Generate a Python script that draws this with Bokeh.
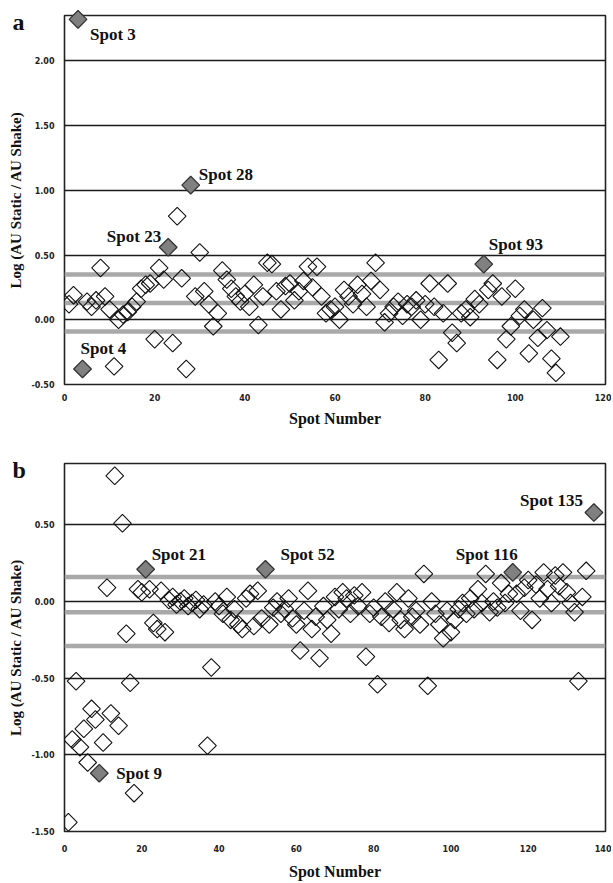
import numpy as np
from bokeh.plotting import figure
from bokeh.layouts import column
from bokeh.models import Span, Label, FixedTicker, Range1d, PrintfTickFormatter
from bokeh.core.properties import value
from bokeh.embed import file_html
from bokeh.resources import INLINE

# ---------------- data ----------------
a_spots = list(range(1, 111))
a_vals = [0.12, 0.19, 2.32, -0.38, 0.14, 0.10, 0.15, 0.40, 0.18, 0.08,
          -0.36, 0.00, 0.04, 0.06, 0.10, 0.14, 0.24, 0.27, 0.28, -0.15,
          0.40, 0.31, 0.56, -0.18, 0.80, 0.32, -0.38, 1.04, 0.18, 0.52,
          0.22, 0.12, -0.05, 0.05, 0.38, 0.31, 0.24, 0.18, 0.14, 0.20,
          0.10, 0.27, -0.04, 0.18, 0.44, 0.43, 0.22, 0.08, 0.26, 0.28,
          0.15, 0.22, 0.30, 0.41, 0.25, 0.41, 0.18, 0.05, 0.08, 0.10,
          0.00, 0.23, 0.18, 0.12, 0.27, 0.20, 0.10, 0.30, 0.44, 0.23,
          -0.02, 0.05, 0.10, 0.14, 0.03, 0.12, 0.10, 0.15, 0.00, 0.12,
          0.28, 0.10, -0.31, 0.05, 0.28, -0.10, -0.18, 0.05, 0.08, 0.02,
          0.16, 0.12, 0.43, 0.23, 0.28, -0.31, 0.18, -0.15, -0.05, 0.24,
          0.03, 0.08, -0.26, 0.00, -0.14, 0.09, -0.08, -0.30, -0.41, -0.13]
a_highlight = [3, 4, 23, 28, 93]
a_names = ["Spot 3", "Spot 4", "Spot 23", "Spot 28", "Spot 93"]
a_bands = [0.35, 0.13, -0.09]
a_yticks = [-0.5, 0.0, 0.5, 1.0, 1.5, 2.0]
a_xticks = [0, 20, 40, 60, 80, 100, 120]

b_spots = list(range(1, 136)) + [137]
b_vals = [-1.44, -0.90, -0.52, -0.95, -0.83, -1.05, -0.70, -0.77, -1.12, -0.92,
          0.09, -0.73, 0.82, -0.81, 0.51, -0.21, -0.53, -1.25, 0.08, 0.06,
          0.21, 0.08, -0.14, -0.18, 0.07, -0.20, 0.01, 0.03, -0.02, 0.00,
          0.02, -0.03, -0.01, 0.01, -0.05, -0.02, -0.94, -0.43, 0.00, -0.03,
          -0.08, 0.03, -0.12, -0.05, -0.15, -0.18, 0.02, 0.05, -0.16, 0.07,
          -0.11, 0.21, -0.15, -0.04, 0.00, -0.08, -0.05, 0.02, -0.11, -0.15,
          -0.32, -0.06, 0.07, -0.18, -0.10, -0.37, -0.03, -0.12, -0.21, 0.03,
          -0.05, 0.06, 0.02, -0.08, 0.04, -0.03, 0.06, -0.36, -0.08, -0.04,
          -0.54, -0.10, 0.00, -0.14, -0.05, 0.06, -0.12, -0.18, 0.02, -0.10,
          -0.06, -0.15, 0.18, -0.55, 0.00, -0.08, -0.15, -0.24, -0.06, -0.20,
          -0.12, -0.05, -0.01, -0.08, 0.02, -0.05, 0.08, -0.01, 0.18, -0.07,
          0.00, -0.04, 0.12, -0.01, 0.05, 0.19, 0.05, -0.06, 0.09, 0.14,
          -0.12, 0.11, 0.02, 0.19, 0.08, -0.01, 0.17, 0.10, 0.19, 0.06,
          -0.01, -0.07, -0.52, 0.03, 0.20, 0.58]
b_highlight = [9, 21, 52, 116, 137]
b_names = ["Spot 9", "Spot 21", "Spot 52", "Spot 116", "Spot 135"]
b_bands = [0.16, -0.07, -0.29]
b_yticks = [-1.5, -1.0, -0.5, 0.0, 0.5]
b_xticks = [0, 20, 40, 60, 80, 100, 120, 140]

SERIF = "Liberation Serif"
TICKFONT = "DejaVu Sans"


def make_panel(spots, vals, highlight, names, bands, yticks, xticks,
               xr, yr, width, height, borders, letter, label_style,
               x_standoff, x_title_standoff):
    p = figure(width=width, height=height, x_range=Range1d(*xr), y_range=Range1d(*yr),
               output_backend="svg", toolbar_location=None,
               min_border_left=borders[0], min_border_right=borders[1],
               min_border_top=borders[2], min_border_bottom=borders[3])
    p.background_fill_color = "white"
    p.border_fill_color = "white"
    p.outline_line_color = "#222222"
    p.outline_line_width = 1.6

    # grid
    p.xgrid.grid_line_color = None
    p.ygrid.ticker = FixedTicker(ticks=yticks)
    p.ygrid.grid_line_color = "#1a1a1a"
    p.ygrid.grid_line_width = 1.4

    # axes
    p.yaxis.ticker = FixedTicker(ticks=yticks)
    p.xaxis.ticker = FixedTicker(ticks=xticks)
    p.yaxis.formatter = PrintfTickFormatter(format="%.2f")
    p.xaxis.formatter = PrintfTickFormatter(format="%d")
    for ax in (p.xaxis[0], p.yaxis[0]):
        ax.axis_line_color = None
        ax.major_tick_line_color = None
        ax.minor_tick_line_color = None
        ax.major_tick_out = 0
        ax.major_tick_in = 0
        ax.minor_tick_out = 0
        ax.major_label_text_font = TICKFONT
        ax.major_label_text_font_style = "bold"
        ax.major_label_text_font_size = "8px"
        ax.major_label_text_color = "#222222"
        ax.axis_label_text_font = SERIF
        ax.axis_label_text_font_style = "bold"
        ax.axis_label_text_color = "#111111"
    p.xaxis.axis_label_text_font_size = "16px"
    p.yaxis.axis_label_text_font_size = "15px"
    p.yaxis.major_label_standoff = 10
    p.yaxis.axis_label_standoff = 4
    p.xaxis.major_label_standoff = x_standoff
    p.xaxis.axis_label_standoff = x_title_standoff
    p.xaxis.axis_label = "Spot Number"
    p.yaxis.axis_label = "Log (AU Static / AU Shake)"

    # mean / sd bands
    for b in bands:
        p.add_layout(Span(location=b, dimension="width", line_color="#a9a9a9",
                          line_width=4.5, level="underlay"))

    open_x = [s for s in spots if s not in highlight]
    open_y = [v for s, v in zip(spots, vals) if s not in highlight]
    hi_x = [s for s in spots if s in highlight]
    hi_y = [v for s, v in zip(spots, vals) if s in highlight]

    p.scatter(open_x, open_y, marker="square", size=12.5, angle=np.pi / 4,
              fill_color=None, line_color="#111111", line_width=1.1)
    p.scatter(hi_x, hi_y, marker="square", size=12.5, angle=np.pi / 4,
              fill_color="#808080", line_color="#333333", line_width=1.3,
              level="overlay")

    lookup = dict(zip(spots, vals))
    for s, name in zip(highlight, names):
        xo, yo, align = label_style[name]
        p.add_layout(Label(x=s, y=lookup[s], text=name, x_offset=xo, y_offset=yo,
                           text_align=align, text_baseline="middle",
                           text_font=SERIF, text_font_style="bold",
                           text_font_size="17px", text_color="#111111"))

    # panel letter (text glyph at overlay level so it is not clipped to the frame)
    p.text(x=[xr[0]], y=[yr[1]], text=[letter], x_offset=-52, y_offset=6,
           text_align="left", text_baseline="middle",
           text_font=value(SERIF), text_font_style="bold",
           text_font_size="24px", text_color="#111111", level="overlay")
    return p


a_style = {"Spot 3": (12, -15, "left"), "Spot 28": (8, 11, "left"),
           "Spot 23": (-7, 11, "right"), "Spot 4": (-2, 20, "left"),
           "Spot 93": (5, 20, "left")}
b_style = {"Spot 9": (17, 0, "left"), "Spot 21": (6, 15, "left"),
           "Spot 52": (15, 15, "left"), "Spot 116": (5, 18, "right"),
           "Spot 135": (-11, 12, "right")}

pa = make_panel(a_spots, a_vals, a_highlight, a_names, a_bands, a_yticks, a_xticks,
                (0, 120), (-0.5, 2.35), 611, 430, (64, 6, 15, 46), "a", a_style, 9, 6)
pb = make_panel(b_spots, b_vals, b_highlight, b_names, b_bands, b_yticks, b_xticks,
                (0, 140), (-1.5, 0.9), 611, 452, (64, 6, 33, 50), "b", b_style, 13, 8)

layout = column(pa, pb, spacing=0)
open("out.html", "w").write(file_html(layout, INLINE))
